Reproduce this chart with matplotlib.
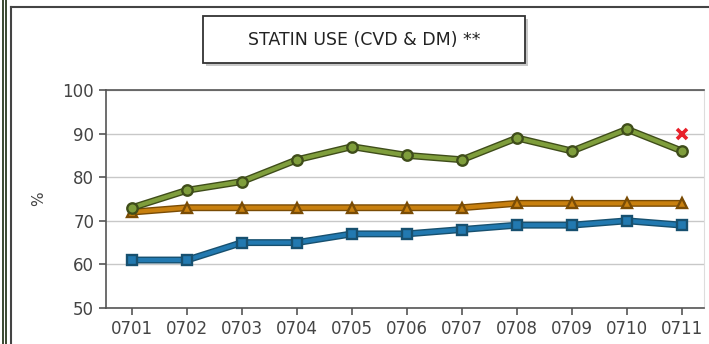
import matplotlib
matplotlib.use("Agg")
import matplotlib.pyplot as plt
import matplotlib.patheffects as pe
from matplotlib.patches import Rectangle
from matplotlib.lines import Line2D

# data
months = ["0701", "0702", "0703", "0704", "0705", "0706",
          "0707", "0708", "0709", "0710", "0711"]
green_vals = [73, 77, 79, 84, 87, 85, 84, 89, 86, 91, 86]
orange_vals = [72, 73, 73, 73, 73, 73, 73, 74, 74, 74, 74]
blue_vals = [61, 61, 65, 65, 67, 67, 68, 69, 69, 70, 69]
target_month = "0711"
target_val = 90
y_ticks = [50, 60, 70, 80, 90, 100]

fig = plt.figure(figsize=(7.09, 3.44), dpi=100)
fig.patch.set_facecolor("white")

ax = fig.add_axes([106/709, 1-308/344, (704-106)/709, (308-90)/344])
x = list(range(len(months)))

def draw(vals, color, edge, marker, ms):
    # line with dark outline, then markers on top
    ax.plot(x, vals, color=color, lw=3.0, zorder=3, solid_capstyle="round",
            path_effects=[pe.Stroke(linewidth=5.0, foreground=edge), pe.Normal()])
    ax.plot(x, vals, ls="none", marker=marker, ms=ms, mfc=color, mec=edge,
            mew=1.7, zorder=4)

draw(blue_vals, "#2279b0", "#17506f", "s", 6.5)
draw(orange_vals, "#c8800f", "#7a4c05", "^", 6.5)
draw(green_vals, "#7f9e3c", "#3f4d1a", "o", 7.5)

ax.plot([months.index(target_month)], [target_val], marker="x", color="#e8202a",
        ms=7, mew=2.6, ls="none", zorder=5)

ax.set_xlim(-0.473, 10.4)
ax.set_ylim(50, 100)
ax.set_yticks(y_ticks)
ax.set_xticks(x)
ax.set_xticklabels(months)
ax.yaxis.grid(True, color="#c8c8c8", lw=1)
ax.set_axisbelow(True)
for s in ["left", "bottom", "top"]:
    ax.spines[s].set_color("#555555")
    ax.spines[s].set_linewidth(1.2)
ax.spines["right"].set_color("#dddddd")
ax.tick_params(axis="both", colors="#555555", length=5, width=1.2,
               labelcolor="#444444", labelsize=12)
ax.tick_params(axis="x", pad=4)
ax.set_ylabel("%", fontsize=11, color="#444444", labelpad=12)

# title box with shadow
fig.patches.append(Rectangle((206/709, 1-66/344), 322/709, 47/344,
                             transform=fig.transFigure, facecolor="#c8c8c8",
                             edgecolor="none", zorder=1))
fig.patches.append(Rectangle((203/709, 1-63/344), 322/709, 47/344,
                             transform=fig.transFigure, facecolor="white",
                             edgecolor="#333333", lw=1.3, zorder=2))
fig.text(364/709, 1-40/344, "STATIN USE (CVD & DM) **", ha="center", va="center",
         fontsize=12.5, color="#222222", zorder=3)

# outer frame lines
fig.lines.append(Line2D([3/709, 3/709], [0, 1], transform=fig.transFigure, color="#2a3a20", lw=1.3))
fig.lines.append(Line2D([6/709, 6/709], [0, 1], transform=fig.transFigure, color="#2a3a20", lw=1.3))
fig.lines.append(Line2D([11/709, 11/709], [0, 1-7/344], transform=fig.transFigure, color="#444444", lw=1.5))
fig.lines.append(Line2D([11/709, 1], [1-7/344, 1-7/344], transform=fig.transFigure, color="#444444", lw=1.5))

fig.savefig("out.png", dpi=100)
